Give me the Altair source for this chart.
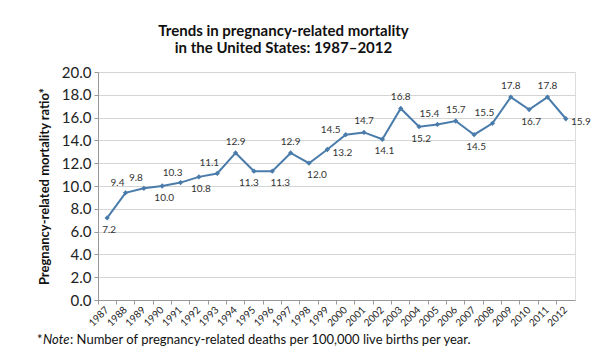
import altair as alt
import pandas as pd

years = [str(y) for y in range(1987, 2013)]
ratios = [7.2, 9.4, 9.8, 10.0, 10.3, 10.8, 11.1, 12.9, 11.3, 11.3, 12.9, 12.0, 13.2,
          14.5, 14.7, 14.1, 16.8, 15.2, 15.4, 15.7, 14.5, 15.5, 17.8, 16.7, 17.8, 15.9]
label_side = ["below", "above-left", "above-left", "below", "above-left", "below",
              "above-left", "above", "below-left", "below-right", "above", "below-right",
              "right", "left", "above", "below", "above", "below", "above-left", "above",
              "below", "above-left", "above", "below", "above", "right"]
title_lines = ["Trends in pregnancy-related mortality", "in the United States: 1987\u20132012"]
y_title = "Pregnancy-related mortality ratio*"
note_star = "*"
note_word = "Note"
note_rest = ": Number of pregnancy-related deaths per 100,000 live births per year."

df = pd.DataFrame({"year": years, "ratio": ratios, "side": label_side})
df["label"] = df["ratio"].map(lambda v: f"{v:.1f}")

FONT = "Lato"
LINE = "#4a7cab"

x_enc = alt.X("year:O", sort=years,
              scale=alt.Scale(type="band", paddingInner=0, paddingOuter=0),
              axis=alt.Axis(title=None, labelAngle=-45, labelAlign="right", labelBaseline="middle",
                            labelFontSize=10, labelFont=FONT, labelColor="#222",
                            tickSize=4, tickColor="#999", domainColor="#999", bandPosition=0,
                            labelPadding=4, grid=False))
y_enc = alt.Y("ratio:Q", scale=alt.Scale(domain=[0, 20], nice=False),
              axis=alt.Axis(title=y_title, values=list(range(0, 21, 2)), format=".1f",
                            labelFontSize=15, labelFont=FONT, labelColor="#222",
                            titleFont=FONT, titleFontSize=13, titleFontWeight="bold",
                            titleColor="#111", titlePadding=10,
                            tickSize=4, tickColor="#999", domainColor="#999",
                            gridColor="#d4d4d4", labelPadding=3))

base = alt.Chart(df).encode(x=x_enc, y=y_enc)

line = base.mark_line(color=LINE, strokeWidth=2)
pts = base.mark_point(shape="diamond", filled=True, size=28, color=LINE, opacity=1)

txt_kw = dict(font=FONT, fontSize=10, color="#333")
placements = {
    "above": dict(dx=0, dy=-11),
    "below": dict(dx=2, dy=12),
    "above-left": dict(dx=-8, dy=-10),
    "below-left": dict(dx=-5, dy=12),
    "below-right": dict(dx=8, dy=12),
    "right": dict(dx=15, dy=3),
    "left": dict(dx=-15, dy=-5),
}
label_layers = [
    base.transform_filter(alt.datum.side == side).mark_text(**off, **txt_kw).encode(text="label:N")
    for side, off in placements.items()
]

note_df = pd.DataFrame({"a": [note_star], "b": [note_word], "c": [note_rest]})
nbase = alt.Chart(note_df)
NY = 268
n1 = nbase.mark_text(align="left", baseline="middle", font=FONT, fontSize=13, color="#111").encode(
    x=alt.value(-61), y=alt.value(NY), text="a:N")
n2 = nbase.mark_text(align="left", baseline="middle", font=FONT, fontSize=13, fontStyle="italic", color="#111").encode(
    x=alt.value(-55), y=alt.value(NY), text="b:N")
n3 = nbase.mark_text(align="left", baseline="middle", font=FONT, fontSize=13, color="#111").encode(
    x=alt.value(-28), y=alt.value(NY), text="c:N")

chart = alt.layer(line, pts, *label_layers, n1, n2, n3).properties(
    width=477, height=228,
    title=alt.TitleParams(text=title_lines, font=FONT, fontSize=15, fontWeight="bold",
                          color="#111", dx=-53, offset=9, lineHeight=17),
    padding={"left": 90, "top": 64, "right": 23, "bottom": 54},
    autosize=alt.AutoSizeParams(type="none"),
).configure_view(stroke=None).configure(background="white")

chart.save("out.html", embed_options={"renderer": "svg", "actions": False})
